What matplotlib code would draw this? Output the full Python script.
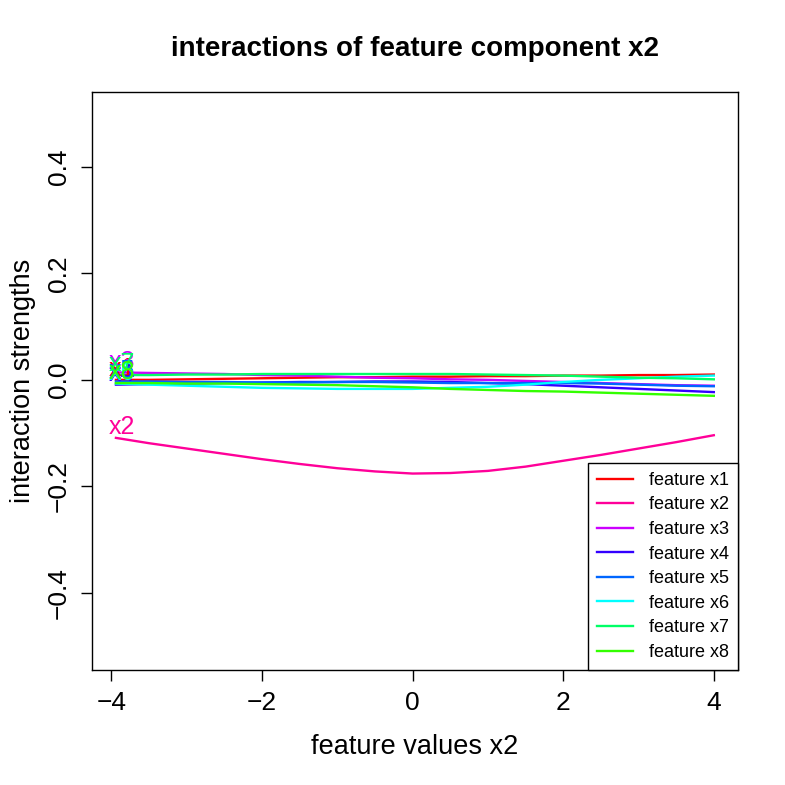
import numpy as np
import matplotlib
matplotlib.use("Agg")
import matplotlib.pyplot as plt

plt.rcParams['font.family'] = ['Liberation Sans', 'DejaVu Sans']

# feature values of x2 where the interaction curves were evaluated
x = [-3.94, -3.5, -3, -2.5, -2, -1.5, -1, -0.5, 0, 0.5, 1, 1.5, 2, 2.5, 3, 3.5, 4]

x1 = [0.000, 0.000, 0.001, 0.002, 0.003, 0.004, 0.005, 0.005, 0.006, 0.006, 0.007, 0.007, 0.008, 0.008, 0.009, 0.009, 0.010]
x2 = [-0.109, -0.119, -0.129, -0.139, -0.149, -0.158, -0.166, -0.172, -0.176, -0.175, -0.171, -0.163, -0.152, -0.141, -0.129, -0.117, -0.104]
x3 = [0.014, 0.013, 0.012, 0.011, 0.009, 0.008, 0.006, 0.004, 0.003, 0.001, 0.000, -0.002, -0.004, -0.006, -0.008, -0.010, -0.011]
x4 = [-0.009, -0.008, -0.007, -0.006, -0.005, -0.004, -0.004, -0.003, -0.003, -0.004, -0.006, -0.008, -0.011, -0.014, -0.017, -0.020, -0.023]
x5 = [-0.003, -0.003, -0.004, -0.004, -0.005, -0.005, -0.004, -0.004, -0.005, -0.006, -0.006, -0.006, -0.006, -0.007, -0.009, -0.011, -0.012]
x6 = [-0.007, -0.009, -0.011, -0.013, -0.015, -0.016, -0.017, -0.017, -0.017, -0.015, -0.013, -0.009, -0.004, 0.000, 0.003, 0.006, 0.008]
x7 = [0.009, 0.009, 0.010, 0.010, 0.011, 0.011, 0.011, 0.011, 0.011, 0.011, 0.010, 0.009, 0.008, 0.006, 0.004, 0.003, 0.001]
x8 = [-0.006, -0.006, -0.007, -0.007, -0.008, -0.009, -0.010, -0.012, -0.014, -0.017, -0.019, -0.021, -0.022, -0.024, -0.026, -0.028, -0.030]

names = ["x1", "x2", "x3", "x4", "x5", "x6", "x7", "x8"]
series = [x1, x2, x3, x4, x5, x6, x7, x8]
colors = ['#FF0000', '#FF0099', '#CC00FF', '#3300FF', '#0066FF', '#00FFFF', '#00FF66', '#33FF00']

fig = plt.figure(figsize=(7.85, 7.85), dpi=100)
ax = fig.add_axes([0.117, 0.1465, 0.823, 0.7365])

for name, y, c in zip(names, series, colors):
    ax.plot(x, y, color=c, lw=1.7, label=f"feature {name}")
for name, y, c in zip(names, series, colors):
    ax.annotate(name, (x[0], y[0]), xytext=(4, -1), textcoords='offset points',
                ha='center', va='bottom', color=c, fontsize=18)

ax.set_xlim(-4.26, 4.32)
ax.set_ylim(-0.545, 0.541)
ax.set_xticks([-4, -2, 0, 2, 4])
ax.set_xticklabels(['\u22124', '\u22122', '0', '2', '4'])
ax.set_yticks([-0.4, -0.2, 0.0, 0.2, 0.4])
ax.set_yticklabels(['\u22120.4', '\u22120.2', '0.0', '0.2', '0.4'], rotation=90, va='center')
ax.tick_params(direction='out', length=8, width=1, labelsize=19, pad=7)
for s in ax.spines.values():
    s.set_linewidth(1)

ax.set_title("interactions of feature component x2", fontsize=20, fontweight='bold', pad=26)
ax.set_xlabel("feature values x2", fontsize=19.5, labelpad=14)
ax.set_ylabel("interaction strengths", fontsize=19.5, labelpad=8)

leg = ax.legend(loc='lower right', borderaxespad=0, fancybox=False, framealpha=1,
                edgecolor='black', fontsize=13, handlelength=2.0, handletextpad=0.85,
                labelspacing=0.42, borderpad=0.5)
leg.get_frame().set_linewidth(1)

fig.savefig("out.png", dpi=100)
